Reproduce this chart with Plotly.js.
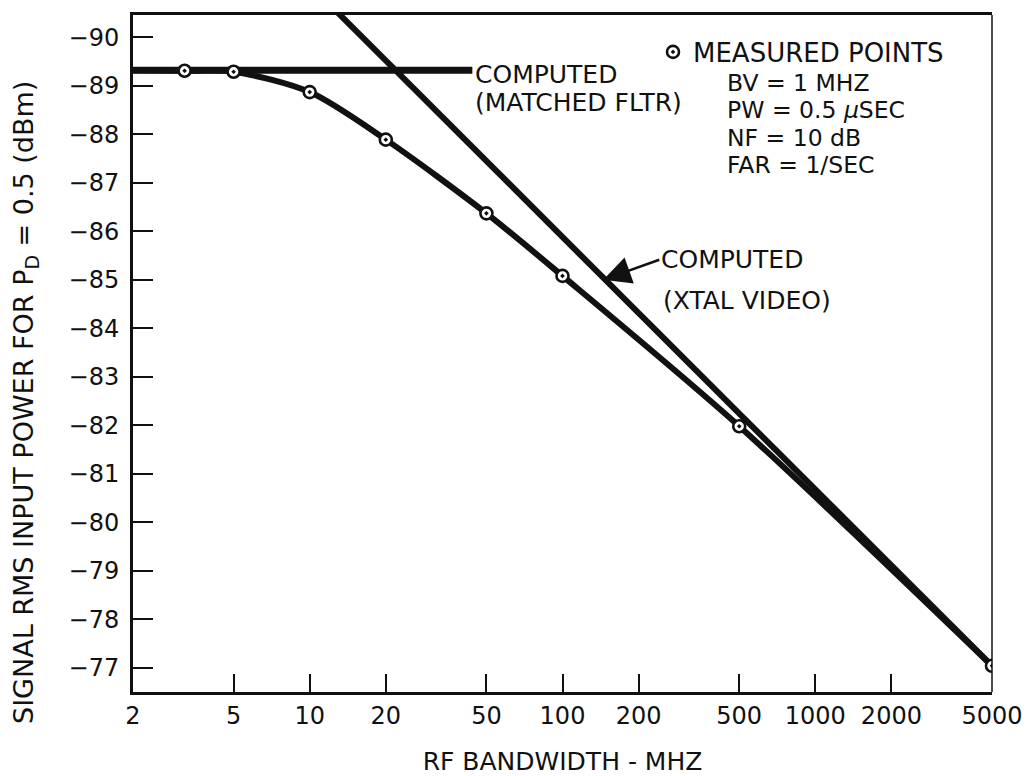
<!DOCTYPE html>
<html>
<head>
<meta charset="utf-8">
<script src="https://cdn.plot.ly/plotly-3.0.1.min.js"></script>
<style>html,body{margin:0;padding:0;background:#fff;}</style>
</head>
<body>
<div id="chart" style="width:1035px;height:776px;"></div>
<script>
// RF bandwidth (MHz) tick values
const bwTicks = [2, 5, 10, 20, 50, 100, 200, 500, 1000, 2000, 5000];
// Signal power ticks (dBm)
const powerTicks = [-90, -89, -88, -87, -86, -85, -84, -83, -82, -81, -80, -79, -78, -77];

// Measured points
const measBW = [3.2, 5, 10, 20, 50, 100, 500, 5000];
const measP  = [-89.31, -89.29, -88.87, -87.89, -86.37, -85.08, -81.98, -77.04];

// Curve through measured points (starting at the left axis)
const curveBW = [2, 3.2, 5, 10, 20, 50, 100, 500, 5000];
const curveP  = [-89.32, -89.31, -89.29, -88.87, -87.89, -86.37, -85.08, -81.98, -77.04];

// Computed (matched filter)
const mfBW = [2, 44];
const mfP  = [-89.32, -89.32];

// Computed (xtal video)
const xvBW = [12.4, 5000];
const xvP  = [-90.6, -77.04];

const ink = '#111';
const fontFam = 'DejaVu Sans, Liberation Sans, sans-serif';

const traces = [
  {x: mfBW, y: mfP, mode: 'lines', line: {color: ink, width: 7}, showlegend: false, hoverinfo: 'skip'},
  {x: xvBW, y: xvP, mode: 'lines', line: {color: ink, width: 6}, showlegend: false, hoverinfo: 'skip'},
  {x: curveBW, y: curveP, mode: 'lines', line: {color: ink, width: 6, shape: 'spline', smoothing: 0.8}, showlegend: false, hoverinfo: 'skip'},
  {x: measBW, y: measP, mode: 'markers', name: 'MEASURED POINTS',
   marker: {symbol: 'circle-dot', size: 12, color: 'white', line: {color: ink, width: 2.6}}}
];

function px2x(px){ return (px - 133) / 859; }
function py2y(py){ return (692 - py) / 677; }

const annFont = {family: fontFam, size: 25, color: ink};
const blockFont = {family: fontFam, size: 23.5, color: ink};
function label(text, px, py, font){
  return {text: text, xref: 'paper', yref: 'paper', x: px2x(px), y: py2y(py),
          xanchor: 'left', yanchor: 'middle', showarrow: false, font: font || annFont, align: 'left'};
}

const annotations = [
  label('COMPUTED', 473, 75),
  label('(MATCHED FLTR)', 473, 102),
  label('BV = 1 MHZ', 725, 83, blockFont),
  label('PW = 0.5 <i>μ</i>SEC', 725, 110, blockFont),
  label('NF = 10 dB', 725, 137.5, blockFont),
  label('FAR = 1/SEC', 725, 165, blockFont),
  {text: 'COMPUTED', x: Math.log10(145), y: -85.0, xref: 'x', yref: 'y',
   xanchor: 'left', yanchor: 'middle', font: annFont,
   showarrow: true, arrowhead: 2, arrowsize: 2.2, arrowwidth: 2.5, arrowcolor: ink,
   ax: 56, ay: -20},
  label('(XTAL VIDEO)', 661, 300),
  {text: 'SIGNAL RMS INPUT POWER FOR P<sub>D</sub> = 0.5 (dBm)', xref: 'paper', yref: 'paper',
   x: px2x(25), y: py2y(403), xanchor: 'center', yanchor: 'middle', textangle: -90,
   showarrow: false, font: {family: fontFam, size: 27, color: ink}}
];

const layout = {
  width: 1035, height: 776,
  margin: {l: 133, r: 43, t: 15, b: 84},
  paper_bgcolor: 'white', plot_bgcolor: 'white',
  font: {family: fontFam, color: ink},
  showlegend: true,
  legend: {x: px2x(653), y: py2y(52), xanchor: 'left', yanchor: 'middle',
           bgcolor: 'rgba(0,0,0,0)', font: {family: fontFam, size: 26, color: ink}},
  xaxis: {
    type: 'log', range: [Math.log10(2), Math.log10(5000)],
    tickmode: 'array', tickvals: bwTicks, ticktext: bwTicks.map(String),
    ticks: 'inside', ticklen: 18, tickwidth: 2, tickcolor: ink,
    showline: true, linewidth: 3, linecolor: ink, mirror: true,
    showgrid: false, zeroline: false,
    tickfont: {family: fontFam, size: 24, color: ink},
    title: {text: 'RF BANDWIDTH - MHZ', font: {family: fontFam, size: 25, color: ink}, standoff: 32}
  },
  yaxis: {
    range: [-76.5, -90.46],
    tickmode: 'array', tickvals: powerTicks,
    ticks: 'inside', ticklen: 20, tickwidth: 2, tickcolor: ink,
    showline: true, linewidth: 3, linecolor: ink,
    showgrid: false, zeroline: false,
    tickfont: {family: fontFam, size: 24, color: ink},
    ticklabelstandoff: 6
  },
  shapes: [
    {type: 'line', xref: 'paper', yref: 'paper', x0: 1, x1: 1, y0: 0, y1: 1, line: {color: ink, width: 1.5}}
  ],
  annotations: annotations
};

Plotly.newPlot('chart', traces, layout, {displayModeBar: false, staticPlot: true});
</script>
</body>
</html>
